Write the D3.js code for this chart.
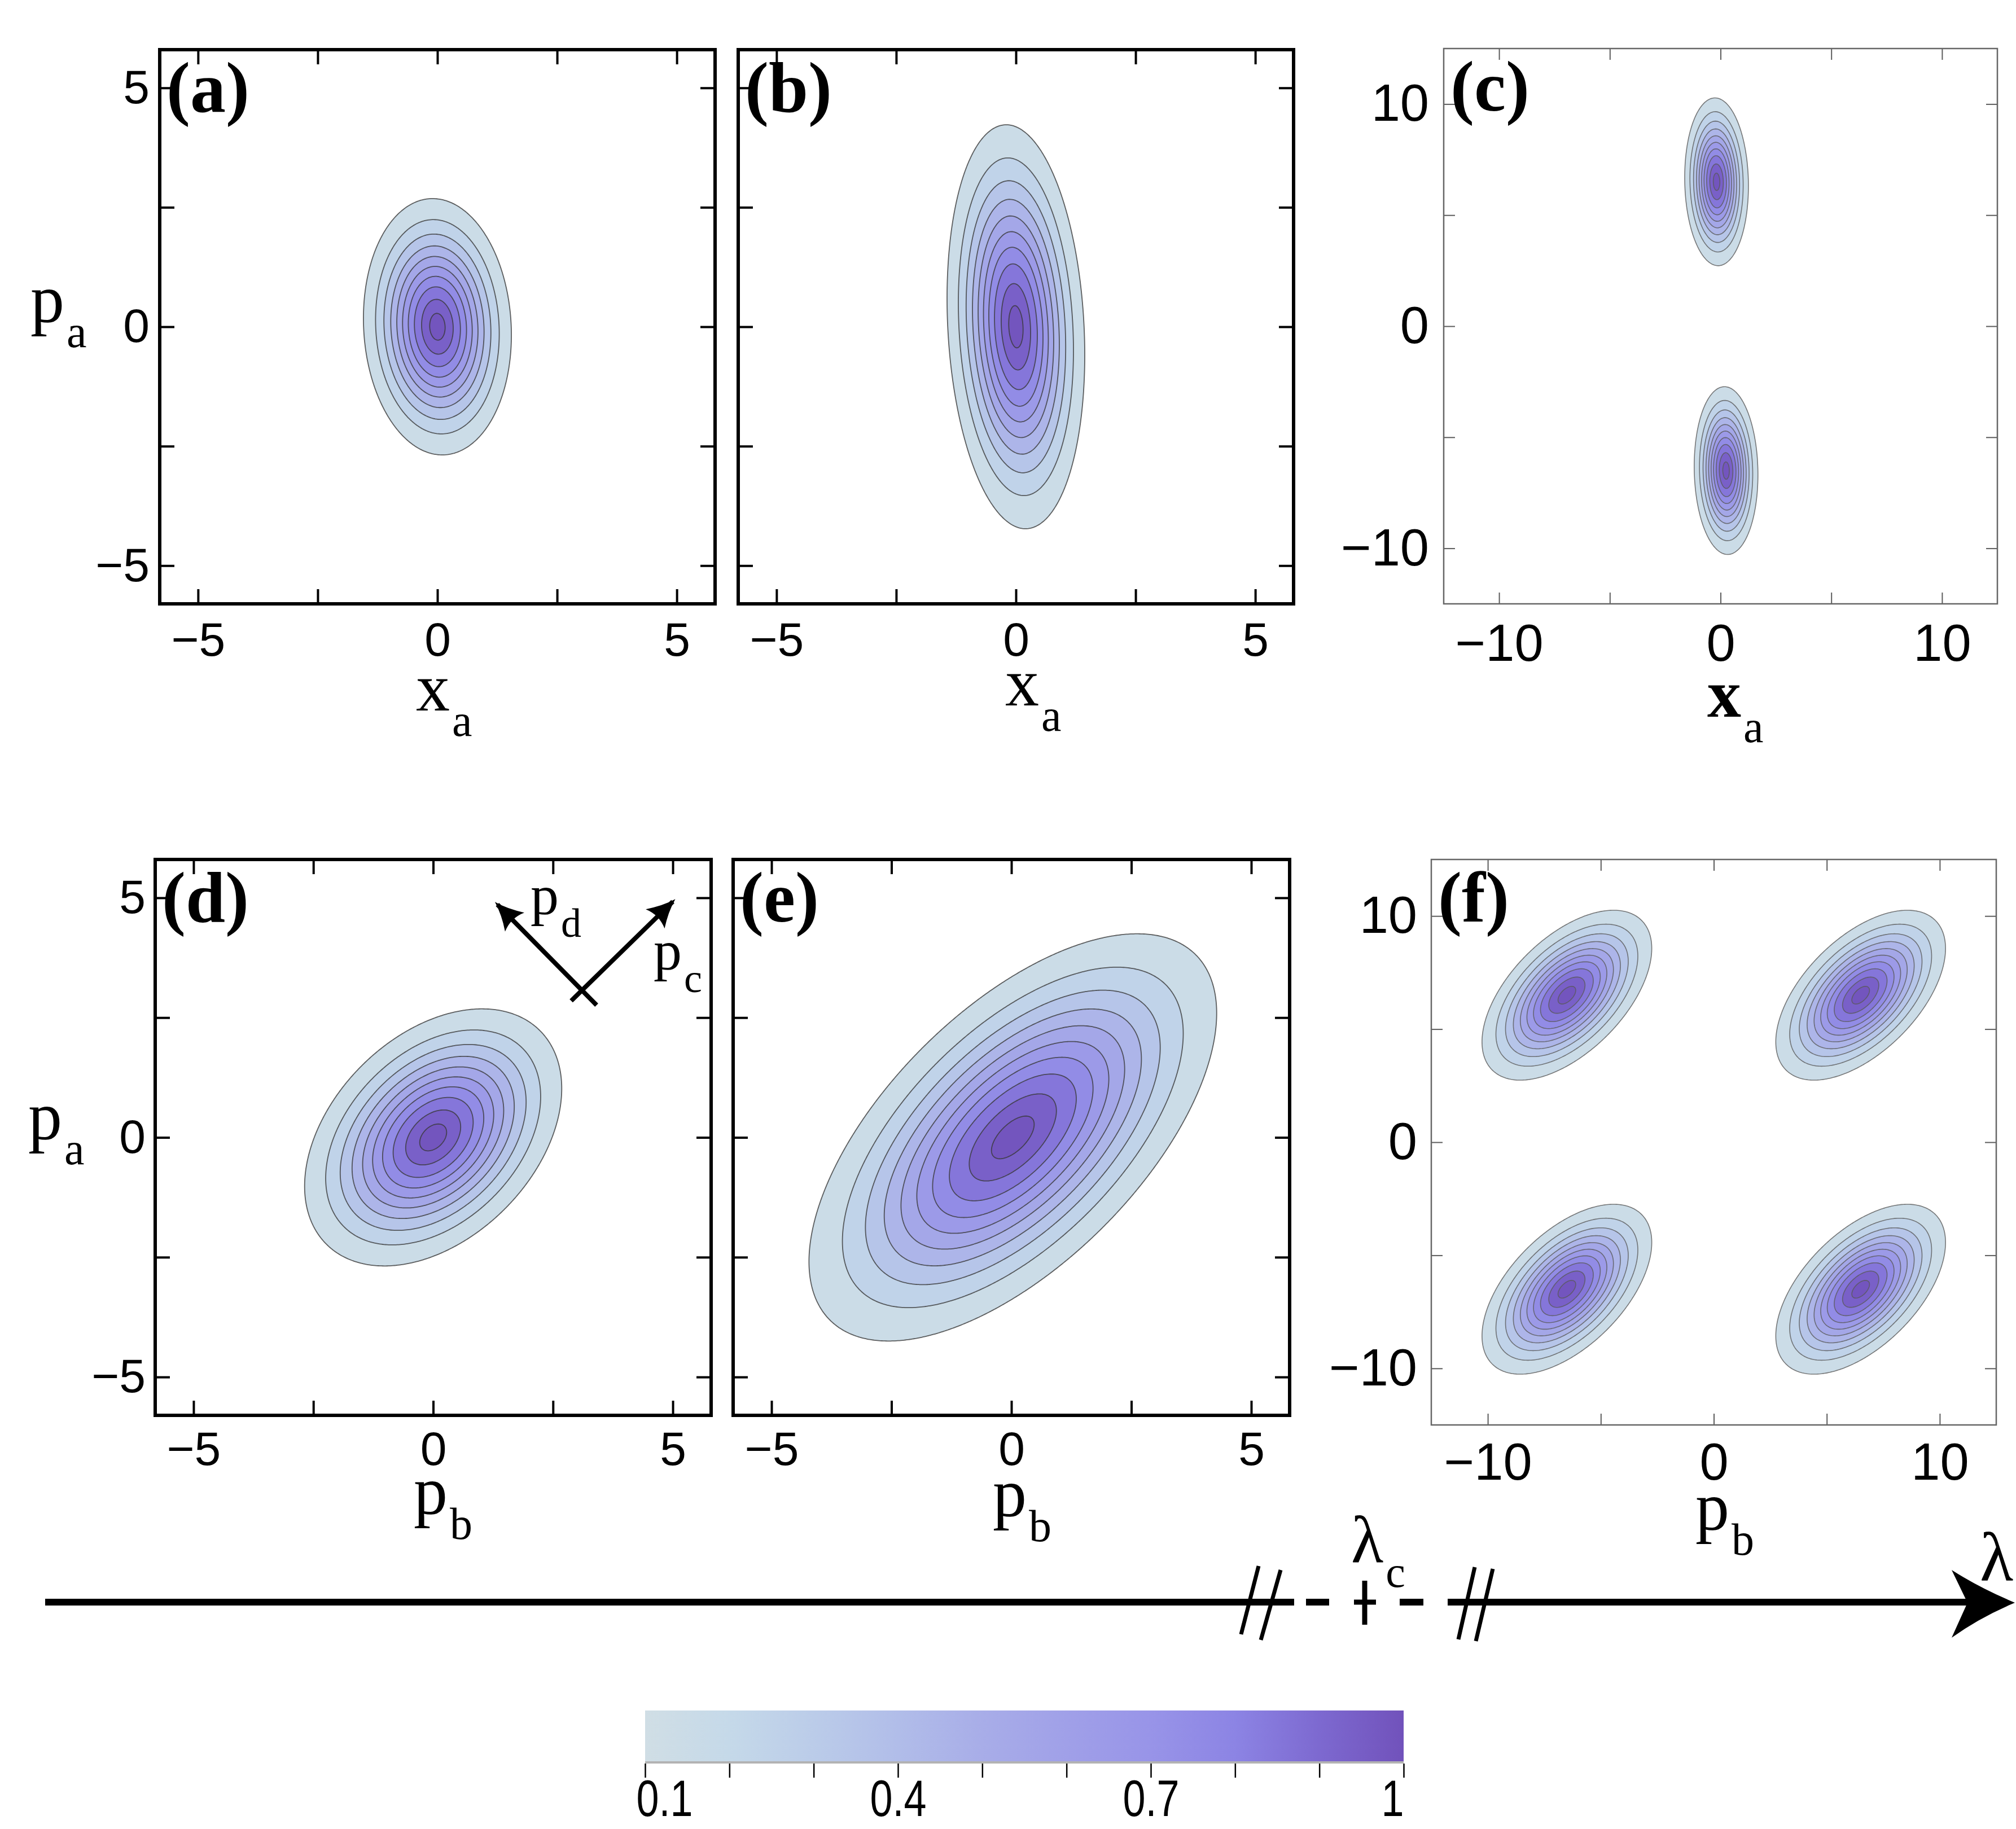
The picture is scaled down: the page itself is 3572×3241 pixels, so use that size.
<!DOCTYPE html>
<html>
<head>
<meta charset="utf-8">
<script src="https://cdn.jsdelivr.net/npm/d3@7"></script>
<style>
  body { margin: 0; background: #fff; }
  svg { display: block; }
</style>
</head>
<body>
<div id="fig"></div>
<script>
// ---- data ----
const panelNames = ["(a)", "(b)", "(c)", "(d)", "(e)", "(f)"];
const axisRange = [5.8, 5.8, 12.5, 5.8, 5.8, 12.5];
const tickValues = [
  [-5, -2.5, 0, 2.5, 5], [-5, -2.5, 0, 2.5, 5], [-10, -5, 0, 5, 10],
  [-5, -2.5, 0, 2.5, 5], [-5, -2.5, 0, 2.5, 5], [-10, -5, 0, 5, 10]
];
const tickLabels = [[-5, 0, 5], [-5, 0, 5], [-10, 0, 10], [-5, 0, 5], [-5, 0, 5], [-10, 0, 10]];
const xTitles = [["x", "a"], ["x", "a"], ["x", "a"], ["p", "b"], ["p", "b"], ["p", "b"]];
const yTitle = ["p", "a"];

// Gaussian blobs per panel: centres, widths, correlation
const blobX = [[0], [0], [-0.18, 0.25], [0], [0.03], [-6.5, 6.5, -6.5, 6.5]];
const blobY = [[0], [0], [6.5, -6.5], [0], [0], [6.5, 6.5, -6.5, -6.5]];
const sigmaX = [0.72, 0.67, 0.67, 1.25, 1.98, 1.75];
const sigmaY = [1.25, 1.97, 1.76, 1.25, 1.98, 1.75];
const rho = [-0.065, -0.14, -0.05, 0.38, 0.61, 0.55];

const contourLevels = [0.1, 0.2, 0.3, 0.4, 0.5, 0.6, 0.7, 0.8, 0.9, 0.975];
const barStops = [0.1, 0.2, 0.3, 0.4, 0.5, 0.6, 0.7, 0.8, 0.9, 1.0];
const barColors = ["#d0dee5", "#c5d9e9", "#bbcce9", "#b1bde9", "#a8ade8",
                   "#a0a0e8", "#9894e8", "#8c84e4", "#7d69d0", "#7152bb"];
const barLabels = [0.1, 0.4, 0.7, 1];

// ---- layout ----
const W = 3572, H = 3241;
const layout = [
  { x: 283, y: 88, w: 984, h: 982, bold: true, yLabels: true, padB: 32, padL: 18, fs: 84,
    xt: [737, 1259], yt: [54, 570] },
  { x: 1308, y: 88, w: 984, h: 982, bold: true, yLabels: false, padB: 32, padL: 18, fs: 84,
    xt: [1781, 1250] },
  { x: 2558, y: 86, w: 981, h: 984, bold: false, yLabels: true, padB: 36, padL: 26, fs: 92,
    xt: [3025, 1270] },
  { x: 275, y: 1523, w: 985, h: 985, bold: true, yLabels: true, padB: 28, padL: 17, fs: 84,
    xt: [733, 2682], yt: [50, 2018] },
  { x: 1299, y: 1523, w: 986, h: 985, bold: true, yLabels: false, padB: 28, padL: 17, fs: 84,
    xt: [1759, 2686], yt: null },
  { x: 2536, y: 1523, w: 1001, h: 1002, bold: false, yLabels: true, padB: 32, padL: 25, fs: 92,
    xt: [3004, 2710] }
];
const serif = "'Liberation Serif', 'Times New Roman', serif";
const sans = "'Liberation Sans', Arial, sans-serif";

const color = d3.scaleLinear().domain(barStops).range(barColors).interpolate(d3.interpolateRgb);

const svg = d3.select("#fig").append("svg")
  .attr("width", W).attr("height", H)
  .attr("viewBox", `0 0 ${W} ${H}`);
const defs = svg.append("defs");

function density(k, x, y) {
  const sx = sigmaX[k], sy = sigmaY[k], r = rho[k];
  let v = 0;
  for (let b = 0; b < blobX[k].length; b++) {
    const dx = x - blobX[k][b], dy = y - blobY[k][b];
    const q = (dx * dx / (sx * sx) - 2 * r * dx * dy / (sx * sy) + dy * dy / (sy * sy)) / (1 - r * r);
    v += Math.exp(-q / 2);
  }
  return v;
}

function title(x, y, main, sub, size, subSize, weight) {
  const t = svg.append("text")
    .attr("x", x).attr("y", y)
    .attr("font-family", serif).attr("font-size", size);
  t.append("tspan").text(main).attr("font-weight", weight || "normal");
  t.append("tspan").text(sub).attr("font-size", subSize).attr("dx", 4).attr("dy", subSize * 0.56);
  return t;
}

panelNames.forEach((name, k) => {
  const L = layout[k];
  const R = axisRange[k];
  const xs = d3.scaleLinear().domain([-R, R]).range([L.x, L.x + L.w]);
  const ys = d3.scaleLinear().domain([-R, R]).range([L.y + L.h, L.y]);

  defs.append("clipPath").attr("id", "clip" + k)
    .append("rect").attr("x", L.x).attr("y", L.y).attr("width", L.w).attr("height", L.h);

  // sample density on a grid and contour it
  const n = 380, step = 2 * R / n;
  const values = new Float64Array(n * n);
  for (let j = 0; j < n; j++) {
    const y = -R + (j + 0.5) * step;
    for (let i = 0; i < n; i++) {
      values[j * n + i] = density(k, -R + (i + 0.5) * step, y);
    }
  }
  const contours = d3.contours().size([n, n]).thresholds(contourLevels)(values);
  const proj = d3.geoTransform({
    point: function (px, py) { this.stream.point(xs(-R + px * step), ys(-R + py * step)); }
  });
  const path = d3.geoPath(proj);

  const plot = svg.append("g").attr("clip-path", `url(#clip${k})`);
  plot.selectAll("path.band").data(contours).join("path")
    .attr("class", "band")
    .attr("d", path)
    .attr("fill", (d, i) => {
      const lo = contourLevels[i];
      const hi = i + 1 < contourLevels.length ? contourLevels[i + 1] : 1;
      return color((lo + hi) / 2);
    });
  plot.selectAll("path.iso").data(contours).join("path")
    .attr("class", "iso")
    .attr("d", path)
    .attr("fill", "none")
    .attr("stroke", L.bold ? "#3a3a3a" : "#5a5a5a")
    .attr("stroke-opacity", 0.8)
    .attr("stroke-width", L.bold ? 1.8 : 1.6);

  // axes with inward ticks
  const tickColor = L.bold ? "#000" : "#5c5c5c";
  const tickW = L.bold ? 4 : 2;
  const tickLen = L.bold ? 26 : 20;
  const fmt = d => tickLabels[k].includes(d) ? d3.format("d")(d) : "";

  const styleAxis = g => {
    g.select(".domain").remove();
    g.selectAll(".tick line").attr("stroke", tickColor).attr("stroke-width", tickW);
    g.selectAll(".tick text").attr("fill", "#000")
      .attr("font-family", sans).attr("font-size", L.fs);
    g.attr("font-family", null).attr("font-size", null);
  };

  svg.append("g").attr("transform", `translate(0,${L.y + L.h})`)
    .call(d3.axisBottom(xs).tickValues(tickValues[k]).tickSizeInner(-tickLen).tickSizeOuter(0)
      .tickPadding(L.padB).tickFormat(fmt))
    .call(styleAxis);
  svg.append("g").attr("transform", `translate(0,${L.y})`)
    .call(d3.axisTop(xs).tickValues(tickValues[k]).tickSizeInner(-tickLen).tickSizeOuter(0).tickFormat(""))
    .call(styleAxis);
  svg.append("g").attr("transform", `translate(${L.x},0)`)
    .call(d3.axisLeft(ys).tickValues(tickValues[k]).tickSizeInner(-tickLen).tickSizeOuter(0)
      .tickPadding(L.padL).tickFormat(L.yLabels ? fmt : ""))
    .call(styleAxis);
  svg.append("g").attr("transform", `translate(${L.x + L.w},0)`)
    .call(d3.axisRight(ys).tickValues(tickValues[k]).tickSizeInner(-tickLen).tickSizeOuter(0).tickFormat(""))
    .call(styleAxis);

  // frame
  svg.append("rect")
    .attr("x", L.x).attr("y", L.y).attr("width", L.w).attr("height", L.h)
    .attr("fill", "none")
    .attr("stroke", L.bold ? "#000" : "#666")
    .attr("stroke-width", L.bold ? 6 : 2.5);

  // panel label
  svg.append("text")
    .attr("x", L.x + 12).attr("y", L.y + 110)
    .attr("font-family", serif).attr("font-weight", "bold").attr("font-size", 126)
    .text(name);

  // axis titles
  title(L.xt[0], L.xt[1], xTitles[k][0], xTitles[k][1], 120, 80, k === 2 ? "bold" : "normal");
  if (L.yt) title(L.yt[0], L.yt[1], yTitle[0], yTitle[1], 120, 80);

  // rotated axes arrows in (d)
  if (k === 3) {
    const m = defs.append("marker").attr("id", "head")
      .attr("viewBox", "0 0 50 50").attr("refX", 44).attr("refY", 25)
      .attr("markerUnits", "userSpaceOnUse").attr("markerWidth", 52).attr("markerHeight", 52)
      .attr("orient", "auto");
    m.append("path").attr("d", "M50,25 Q26,18 2,2 Q12,25 2,48 Q26,32 50,25 Z").attr("fill", "#000");
    const arrows = [
      { from: [2.88, 2.85], to: [5.0, 4.92] },
      { from: [3.41, 2.76], to: [1.34, 4.86] }
    ];
    arrows.forEach(a => {
      svg.append("line")
        .attr("x1", xs(a.from[0])).attr("y1", ys(a.from[1]))
        .attr("x2", xs(a.to[0])).attr("y2", ys(a.to[1]))
        .attr("stroke", "#000").attr("stroke-width", 8)
        .attr("marker-end", "url(#head)");
    });
    title(940, 1620, "p", "d", 100, 72);
    title(1158, 1718, "p", "c", 100, 72);
  }
});

// ---- lambda axis ----
const axisY = 2839;
const seg = (x1, x2, w) => svg.append("line")
  .attr("x1", x1).attr("x2", x2).attr("y1", axisY).attr("y2", axisY)
  .attr("stroke", "#000").attr("stroke-width", w || 12);
seg(80, 2293);
seg(2314, 2355);
seg(2399, 2438, 9);
svg.append("line").attr("x1", 2418).attr("x2", 2418).attr("y1", 2801).attr("y2", 2879)
  .attr("stroke", "#000").attr("stroke-width", 9);
seg(2480, 2522);
seg(2565, 3490);
svg.append("path")
  .attr("d", "M3570,2840 Q3508,2814 3458,2782 L3486,2840 L3458,2902 Q3508,2866 3570,2840 Z")
  .attr("fill", "#000");
[[2199, 2896, 2230, 2775], [2234, 2906, 2269, 2782], [2584, 2905, 2613, 2777], [2615, 2908, 2645, 2780]]
  .forEach(s => svg.append("line")
    .attr("x1", s[0]).attr("y1", s[1]).attr("x2", s[2]).attr("y2", s[3])
    .attr("stroke", "#000").attr("stroke-width", 7));
title(2394, 2768, "λ", "c", 118, 78);
svg.append("text").attr("x", 3508).attr("y", 2800)
  .attr("font-family", serif).attr("font-size", 122).text("λ");

// ---- colour bar ----
const bar = { x: 1143, y: 3031, w: 1344, h: 90 };
const grad = defs.append("linearGradient").attr("id", "bar").attr("x1", 0).attr("x2", 1).attr("y1", 0).attr("y2", 0);
barStops.forEach((s, i) => grad.append("stop")
  .attr("offset", (s - barStops[0]) / (barStops[barStops.length - 1] - barStops[0]))
  .attr("stop-color", barColors[i]));
svg.append("rect").attr("x", bar.x).attr("y", bar.y).attr("width", bar.w).attr("height", bar.h)
  .attr("fill", "url(#bar)");
svg.append("rect").attr("x", bar.x).attr("y", bar.y + bar.h).attr("width", bar.w).attr("height", 4)
  .attr("fill", "#b3b3b3");
const bx = d3.scaleLinear().domain([0.1, 1]).range([bar.x, bar.x + bar.w]);
const barAxis = svg.append("g").attr("transform", `translate(0,${bar.y + bar.h + 4})`)
  .call(d3.axisBottom(bx).tickValues(barStops).tickSizeInner(25).tickSizeOuter(0).tickPadding(4)
    .tickFormat(d => barLabels.some(v => Math.abs(v - d) < 1e-9) ? d3.format("")(+d.toFixed(1)) : ""));
barAxis.select(".domain").remove();
barAxis.selectAll(".tick line").attr("stroke", "#000").attr("stroke-width", 2.5);
barAxis.selectAll(".tick text")
  .attr("font-family", sans).attr("font-size", 90).attr("fill", "#000")
  .attr("transform", "scale(0.8,1)")
  .attr("text-anchor", (d, i, nodes) => i === 0 ? "start" : (i === nodes.length - 1 ? "end" : "middle"))
  .attr("x", (d, i, nodes) => i === 0 ? -20 : 0);
barAxis.attr("font-family", null).attr("font-size", null);
</script>
</body>
</html>
